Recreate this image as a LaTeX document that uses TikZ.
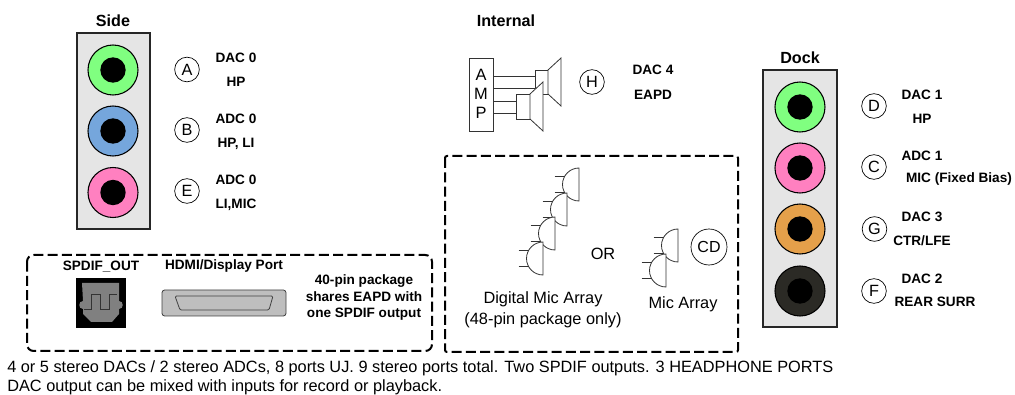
\documentclass[tikz,border=0pt]{standalone}
\usepackage{fontspec}
\setmainfont{Liberation Sans}
\tikzset{
  x=0.75pt,y=-0.75pt,
  panel/.style={draw=black!85,fill=black!10,line width=0.9pt},
  jackouter/.style={circle,draw=black,line width=0.8pt,minimum size=37.5pt,inner sep=0pt},
  jackinner/.style={circle,fill=black,minimum size=19pt,inner sep=0pt},
  letter/.style={circle,draw=black,line width=0.5pt,minimum size=18.5pt,inner sep=0pt,font=\fontsize{12.2}{14}\selectfont},
  bold/.style={font=\fontsize{10.2}{12}\selectfont\bfseries,inner sep=0pt},
  head/.style={font=\fontsize{12.1}{14}\selectfont\bfseries,inner sep=0pt},
  plain/.style={font=\fontsize{12.25}{14}\selectfont,inner sep=0pt},
  amp/.style={font=\fontsize{12.3}{14}\selectfont,inner sep=0pt},
  dashbox/.style={draw=black,line width=1.5pt,dash pattern=on 7.5pt off 3.2pt,rounded corners=5pt},
  dashboxb/.style={draw=black,line width=1.5pt,dash pattern=on 7.5pt off 3.2pt,rounded corners=1.5pt},
  fine/.style={draw=black!80,line width=0.6pt},
  mic/.style={draw=black!80,line width=0.6pt,fill=white},
}
\definecolor{jgreen}{HTML}{80FF80}
\definecolor{jblue}{HTML}{75A6DC}
\definecolor{jpink}{HTML}{FF80C0}
\definecolor{jorange}{HTML}{E5A04A}
\definecolor{jdark}{HTML}{2B2A25}
\definecolor{spgray}{HTML}{808080}
\definecolor{hdgray}{HTML}{BEBEBE}
\newcommand{\jack}[4]{%
  \node[jackouter,fill=#4] (#1) at (#2,#3) {};
  \node[jackinner] (#1i) at (#2,#3) {};
}
\newcommand{\micro}[2]{%
  \draw[mic] (#1,#2-16.5) arc[start angle=270,end angle=90,radius=16.5] -- cycle;
  \draw[fine] (#1-24.5,#2-8.25) -- (#1-14.3,#2-8.25);
  \draw[fine] (#1-24.5,#2+8.25) -- (#1-14.3,#2+8.25);
}
\begin{document}
\begin{tikzpicture}
\useasboundingbox (0,0) rectangle (1015,395);
% Side
\node[head] (sidelbl) at (113,20.5) {Side};
\draw[panel] (77,33) rectangle (150,229);
\jack{ja}{113}{70}{jgreen}
\jack{jb}{113}{131}{jblue}
\jack{je}{113}{192.5}{jpink}
\node[letter] (A) at (187,69.5) {A};
\node[letter] (B) at (187,130) {B};
\node[letter] (E) at (187,191) {E};
\node[bold] (t1) at (236,57.5) {DAC 0};
\node[bold] (t2) at (236,81.5) {HP};
\node[bold] (t3) at (236,118.5) {ADC 0};
\node[bold] (t4) at (236,143.5) {HP, LI};
\node[bold] (t5) at (236,179.5) {ADC 0};
\node[bold] (t6) at (236,204.5) {LI,MIC};
% Internal
\node[head] (intlbl) at (506,20.5) {Internal};
\draw[fine,fill=white] (469,58) rectangle (493,131);
\node[amp] (la) at (481,75) {A};
\node[amp] (lm) at (481,94) {M};
\node[amp] (lp) at (481,113) {P};
\draw[fine] (493,76) -- (535,76);
\draw[fine] (493,88) -- (535,88);
\draw[fine] (493,101) -- (516,101);
\draw[fine] (493,113) -- (516,113);
\draw[fine,fill=white] (535,70) rectangle (548,94);
\draw[fine,fill=white] (548,70) -- (561,58) -- (561,106) -- (548,94) -- cycle;
\draw[fine,fill=white] (516,94) rectangle (530,119);
\draw[fine,fill=white] (530,94) -- (543,82) -- (543,131) -- (530,119) -- cycle;
\node[letter] (H) at (592,82) {H};
\node[bold] (t7) at (653,69.5) {DAC 4};
\node[bold] (t8) at (653,95) {EAPD};
% Dock
\node[head] (docklbl) at (800,57.5) {Dock};
\draw[panel] (763,70) rectangle (837,327);
\jack{jd}{800}{107}{jgreen}
\jack{jc}{800}{168}{jpink}
\jack{jg}{800}{229}{jorange}
\jack{jf}{800}{291}{jdark}
\node[letter] (D) at (874,106) {D};
\node[letter] (C) at (874,167) {C};
\node[letter] (G) at (874.5,229) {G};
\node[letter] (F) at (874,291) {F};
\node[bold] (d1) at (922,94.5) {DAC 1};
\node[bold] (d2) at (922,118.5) {HP};
\node[bold] (d3) at (922,155.5) {ADC 1};
\node[bold] (d4) at (959,179) {MIC (Fixed Bias)};
\node[bold] (d5) at (922,216.5) {DAC 3};
\node[bold] (d6) at (922,241) {CTR/LFE};
\node[bold] (d7) at (922,278.5) {DAC 2};
\node[bold] (d8) at (935,302) {REAR SURR};
% Mic box
\draw[dashboxb] (445,156) rectangle (738,352);
\micro{579}{184.5}
\micro{567}{209.5}
\micro{555}{233.5}
\micro{543}{258.5}
\micro{678}{245.5}
\micro{666}{270.5}
\node[circle,draw=black,line width=0.5pt,minimum size=27pt,inner sep=0pt,font=\fontsize{12}{14}\selectfont] (CD) at (709,247) {CD};
\node[plain] (or) at (603,254) {OR};
\node[plain] (dma) at (543,299.5) {Digital Mic Array};
\node[plain] (dmb) at (543,320) {(48-pin package only)};
\node[plain] (ma) at (683,304.5) {Mic Array};
% SPDIF box
\draw[dashbox] (27,255) rectangle (432,351);
\node[bold] (sp) at (101,267) {SPDIF\_OUT};
\node[bold] (hd) at (224,266) {HDMI/Display Port};
\fill[black] (76,278) rectangle (126,328);
\fill[spgray] (82,283) -- (119,283) -- (119,301) .. controls (124,301) and (124,309) .. (119,309) -- (119,314) -- (112,322) -- (91,322) -- (83,314) -- (83,309) .. controls (78,309) and (78,301) .. (83,301) -- cycle;
\draw[black!80,line width=0.5pt] (84,309) -- (91,309) -- (91,294) -- (100,294) -- (100,309) -- (109,309) -- (109,294) -- (117,294);
\draw[black!75,fill=hdgray,line width=0.6pt,rounded corners=2pt] (162,290) rectangle (286,316);
\draw[black!75,fill=hdgray,line width=0.6pt,rounded corners=1pt] (175,296) -- (273,296) -- (269,310) -- (180,310) -- cycle;
\node[bold] (n1) at (364,281.5) {40-pin package};
\node[bold] (n2) at (364,297) {shares EAPD with};
\node[bold] (n3) at (364,314) {one SPDIF output};
% Footer
\node[plain,anchor=base west] (f1) at (7,372.5) {4 or 5 stereo DACs / 2 stereo ADCs, 8 ports UJ. 9 stereo ports total. Two SPDIF outputs. 3 HEADPHONE PORTS};
\node[plain,anchor=base west] (f2) at (7,391.5) {DAC output can be mixed with inputs for record or playback.};
\end{tikzpicture}
\end{document}
